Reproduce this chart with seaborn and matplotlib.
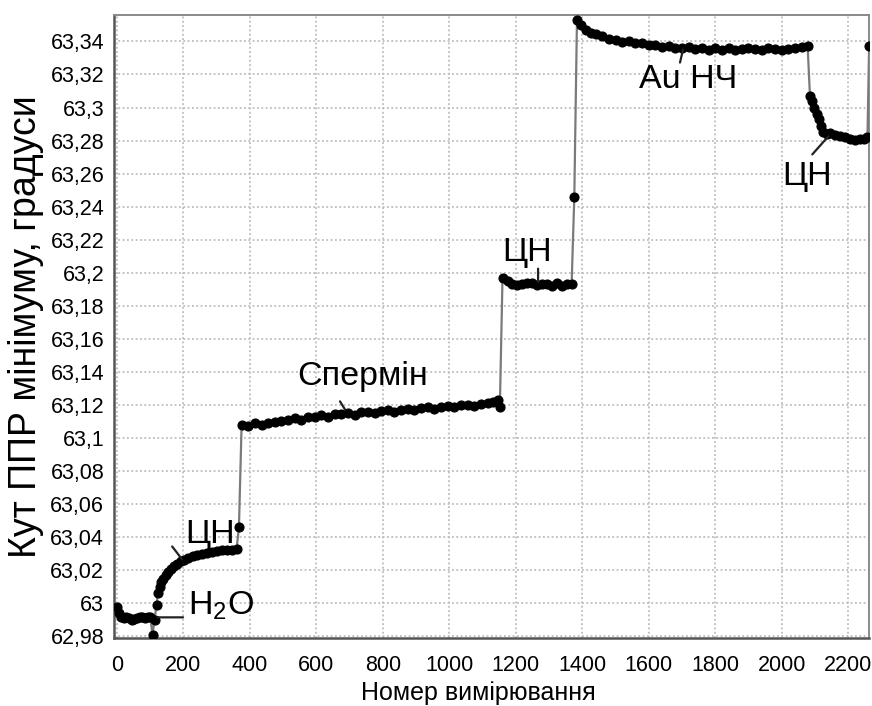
import matplotlib
matplotlib.use("Agg")
import matplotlib.pyplot as plt
import seaborn as sns
import pandas as pd
from matplotlib.ticker import FixedLocator, FixedFormatter

# ---------------- data ----------------
# stage 1: water baseline + cetyl (ЦН) adsorption
x_h2o = [0, 5, 12, 20, 28, 36, 44, 52, 60, 68, 76, 84, 92, 100, 107, 113, 119]
y_h2o = [62.998, 62.994, 62.992, 62.991, 62.9915, 62.991, 62.990, 62.9905, 62.991,
         62.9915, 62.992, 62.991, 62.9915, 62.992, 62.981, 62.990, 62.999]

x_cn1 = [123, 128, 134, 140, 147, 155, 163, 172, 182, 192, 203, 215, 228, 242, 257,
         272, 287, 302, 317, 332, 347, 360, 367]
y_cn1 = [63.006, 63.010, 63.013, 63.015, 63.017, 63.019, 63.021, 63.0225, 63.024,
         63.0255, 63.0265, 63.0275, 63.0285, 63.029, 63.030, 63.0305, 63.031, 63.0315,
         63.032, 63.0322, 63.0325, 63.033, 63.046]

# stage 2: spermine
x_sp = [375, 395, 415, 435, 455, 475, 495, 515, 535, 555, 575, 595, 615, 635, 655, 675,
        695, 715, 735, 755, 775, 795, 815, 835, 855, 875, 895, 915, 935, 955, 975, 995,
        1015, 1035, 1055, 1075, 1095, 1115, 1130, 1145, 1152]
y_sp = [63.108, 63.1075, 63.1088, 63.1080, 63.109, 63.1100, 63.1105, 63.1112, 63.1120,
        63.1112, 63.1128, 63.113, 63.1138, 63.1128, 63.1145, 63.1145, 63.1150, 63.1138,
        63.1155, 63.1160, 63.1150, 63.1165, 63.1168, 63.1158, 63.1172, 63.1178, 63.1168,
        63.1180, 63.1186, 63.1176, 63.1190, 63.1195, 63.1185, 63.1198, 63.1202, 63.1195,
        63.1207, 63.1212, 63.1218, 63.123, 63.119]

# stage 3: ЦН
x_cn2 = [1160, 1175, 1190, 1205, 1220, 1235, 1250, 1265, 1280, 1295, 1310, 1325, 1340,
         1355, 1368, 1376]
y_cn2 = [63.197, 63.195, 63.1935, 63.1925, 63.193, 63.1938, 63.194, 63.1928, 63.1935,
         63.1930, 63.1922, 63.1938, 63.1922, 63.1932, 63.1935, 63.246]

# stage 4: Au nanoparticles
x_au = [1384, 1395, 1410, 1425, 1440, 1460, 1480, 1500, 1520, 1540, 1560, 1580, 1600,
        1620, 1640, 1660, 1680, 1700, 1720, 1740, 1760, 1780, 1800, 1820, 1840, 1860,
        1880, 1900, 1920, 1940, 1960, 1980, 2000, 2020, 2040, 2060, 2078]
y_au = [63.353, 63.350, 63.347, 63.345, 63.3445, 63.343, 63.3415, 63.341, 63.3398,
        63.3400, 63.3388, 63.3390, 63.3378, 63.3380, 63.3368, 63.3375, 63.3362, 63.3360,
        63.3366, 63.3352, 63.3360, 63.3350, 63.3358, 63.3350, 63.3360, 63.3348, 63.3357,
        63.3362, 63.3352, 63.3348, 63.3360, 63.3354, 63.3348, 63.3356, 63.3360, 63.3364,
        63.337]

# stage 5: ЦН
x_cn3 = [2085, 2090, 2098, 2106, 2112, 2118, 2124, 2135, 2145, 2160, 2175, 2190, 2205,
         2220, 2235, 2248, 2258, 2263]
y_cn3 = [63.307, 63.304, 63.300, 63.296, 63.293, 63.289, 63.285, 63.284, 63.2845,
         63.2835, 63.283, 63.282, 63.281, 63.2805, 63.281, 63.2808, 63.282, 63.337]

x_ticks = [0, 200, 400, 600, 800, 1000, 1200, 1400, 1600, 1800, 2000, 2200]
x_tick_labels = ["0", "200", "400", "600", "800", "1000", "1200", "1400", "1600",
                 "1800", "2000", "2200"]
y_ticks = [62.98, 63.00, 63.02, 63.04, 63.06, 63.08, 63.10, 63.12, 63.14, 63.16,
           63.18, 63.20, 63.22, 63.24, 63.26, 63.28, 63.30, 63.32, 63.34]
y_tick_labels = ["62,98", "63", "63,02", "63,04", "63,06", "63,08", "63,1", "63,12",
                 "63,14", "63,16", "63,18", "63,2", "63,22", "63,24", "63,26", "63,28",
                 "63,3", "63,32", "63,34"]

x_label = "Номер вимірювання"
y_label = "Кут ППР мінімуму, градуси"

# annotations: (text, text x, text y, leader start, leader end)
annotations = [
    ("ЦН", 205, 63.0419, (166, 63.0344), (196, 63.0266)),
    ("H$_\\mathregular{2}$O", 214, 62.9985, (122, 62.9915), (199, 62.9915)),
    ("Спермін", 543, 63.1373, (671, 63.1222), (686, 63.1173)),
    ("ЦН", 1160, 63.2123, (1267, 63.2025), (1267, 63.1945)),
    ("Au НЧ", 1572, 63.3170, (1694, 63.3272), (1703, 63.3350)),
    ("ЦН", 2002, 63.2583, (2092, 63.2716), (2140, 63.2825)),
]

# ---------------- plotting ----------------
sns.set_theme(style="white")
plt.rcParams['font.family'] = ['Liberation Sans', 'DejaVu Sans']
plt.rcParams['mathtext.fontset'] = 'custom'
plt.rcParams['mathtext.rm'] = 'Liberation Sans'
plt.rcParams['mathtext.it'] = 'Liberation Sans:italic'
plt.rcParams['mathtext.bf'] = 'Liberation Sans:bold'

df = pd.DataFrame({
    "x": x_h2o + x_cn1 + x_sp + x_cn2 + x_au + x_cn3,
    "y": y_h2o + y_cn1 + y_sp + y_cn2 + y_au + y_cn3,
})

fig = plt.figure(figsize=(8.72, 7.06), dpi=100)
ax = fig.add_axes([0.1307, 0.0963, 0.866, 0.8825])

sns.lineplot(data=df, x="x", y="y", ax=ax, estimator=None, sort=False,
             color="#7a7a7a", linewidth=1.6, marker="o", markersize=6.5,
             markerfacecolor="black", markeredgecolor="black", markeredgewidth=0.8,
             zorder=3)

ax.set_xlim(-9, 2263)
ax.set_ylim(62.979, 63.356)

ax.xaxis.set_major_locator(FixedLocator(x_ticks))
ax.xaxis.set_major_formatter(FixedFormatter(x_tick_labels))
ax.yaxis.set_major_locator(FixedLocator(y_ticks))
ax.yaxis.set_major_formatter(FixedFormatter(y_tick_labels))

ax.grid(True, which="major", color="#bdbdbd", linestyle=(0, (1, 1.4)), linewidth=1.3)
ax.tick_params(axis="both", labelsize=15.5, colors="black", length=0)
ax.tick_params(axis="x", pad=12)
ax.tick_params(axis="y", pad=7)

for side in ["left", "bottom"]:
    ax.spines[side].set_color("#555555")
    ax.spines[side].set_linewidth(1.8)
for side in ["top", "right"]:
    ax.spines[side].set_color("#8a8a8a")
    ax.spines[side].set_linewidth(1.4)

ax.set_xlabel(x_label, fontsize=18, color="black")
ax.xaxis.set_label_coords(0.482, -0.069)
ax.set_ylabel(y_label, fontsize=27, color="black")
ax.yaxis.set_label_coords(-0.093, 0.5)

for text, tx, ty, p0, p1 in annotations:
    ax.text(tx, ty, text, fontsize=24.5, ha="left", va="center", color="black", zorder=5)
    ax.annotate("", xy=p1, xytext=p0,
                arrowprops=dict(arrowstyle="-", color="#222222", lw=1.6,
                                shrinkA=0, shrinkB=0), zorder=4)

fig.savefig("out.png", dpi=100)
